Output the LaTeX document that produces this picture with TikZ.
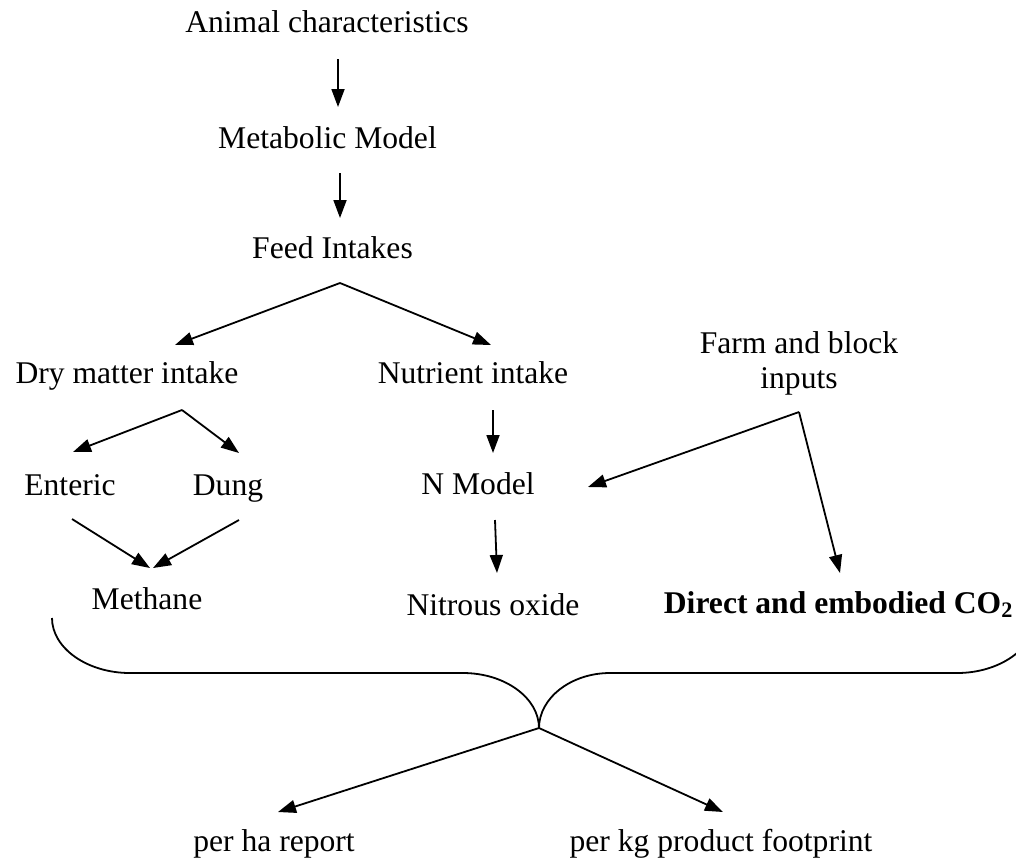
\documentclass[tikz,border=0pt]{standalone}
\usepackage{fontspec}
\setmainfont{Liberation Serif}
\usetikzlibrary{arrows.meta}

\begin{document}
\begin{tikzpicture}[x=0.5pt,y=-0.5pt,line width=0.9pt,
	arr/.style={-{Triangle[length=9pt,width=6.5pt]}},
	lbl/.style={anchor=base,font=\fontsize{15.8}{17.5}\selectfont}]
	\tikzstyle{every node}+=[inner sep=0pt]
	\useasboundingbox (0,0) rectangle (1016,858);
	\clip (0,0) rectangle (1016,858);
	\node[lbl] (ac) at (327,32) {Animal characteristics};
	\node[lbl] (mm) at (327.5,148) {Metabolic Model};
	\node[lbl] (fi) at (332.5,258) {Feed Intakes};
	\node[lbl] (dmi) at (127,383) {Dry matter intake};
	\node[lbl] (ni) at (473,383) {Nutrient intake};
	\node[lbl,align=center] (farm) at (799,388) {Farm and block\\inputs};
	\node[lbl] (ent) at (70,495) {Enteric};
	\node[lbl] (dung) at (228,495) {Dung};
	\node[lbl] (nm) at (478,494) {N Model};
	\node[lbl] (meth) at (147,609) {Methane};
	\node[lbl] (no) at (493,615) {Nitrous oxide};
	\node[lbl,anchor=base west] (co2) at (663,613) {\textbf{Direct and embodied CO\textsubscript{2}}};
	\node[lbl] (ha) at (274,851) {per ha report};
	\node[lbl] (kg) at (721,851) {per kg product footprint};
	\coordinate (acout) at (338,59);
	\coordinate (mmin) at (338,107);
	\coordinate (mmout) at (340,173);
	\coordinate (fiin) at (340,218);
	\coordinate (fisplit) at (340,283);
	\coordinate (dmiin) at (175,345);
	\coordinate (niin) at (491,345);
	\coordinate (dmisplit) at (182,410);
	\coordinate (entin) at (73,452);
	\coordinate (dungin) at (239,453);
	\coordinate (entout) at (72,519);
	\coordinate (dungout) at (239,520);
	\coordinate (methinl) at (150,568);
	\coordinate (methinr) at (153,568);
	\coordinate (niout) at (493,410);
	\coordinate (nmin) at (493,453);
	\coordinate (nmout) at (495,520);
	\coordinate (noin) at (497,573);
	\coordinate (farmsplit) at (799,412);
	\coordinate (nmside) at (588,487);
	\coordinate (co2in) at (840,573);
	\coordinate (bracetip) at (539,728);
	\coordinate (hain) at (278,812);
	\coordinate (kgin) at (723,812);
	\draw[arr] (acout) -- (mmin);
	\draw[arr] (mmout) -- (fiin);
	\draw[arr] (fisplit) -- (dmiin);
	\draw[arr] (fisplit) -- (niin);
	\draw[arr] (dmisplit) -- (entin);
	\draw[arr] (dmisplit) -- (dungin);
	\draw[arr] (entout) -- (methinl);
	\draw[arr] (dungout) -- (methinr);
	\draw[arr] (niout) -- (nmin);
	\draw[arr] (nmout) -- (noin);
	\draw[arr] (farmsplit) -- (nmside);
	\draw[arr] (farmsplit) -- (co2in);
	\draw (52,618) .. controls (52,648) and (87,673) .. (130,673) -- (463,673) .. controls (505,673) and (539,698) .. (bracetip);
	\draw (bracetip) .. controls (539,698) and (571,673) .. (610,673) -- (957,673) .. controls (1000,673) and (1035,648) .. (1035,618);
	\draw[arr] (bracetip) -- (hain);
	\draw[arr] (bracetip) -- (kgin);
\end{tikzpicture}
\end{document}
